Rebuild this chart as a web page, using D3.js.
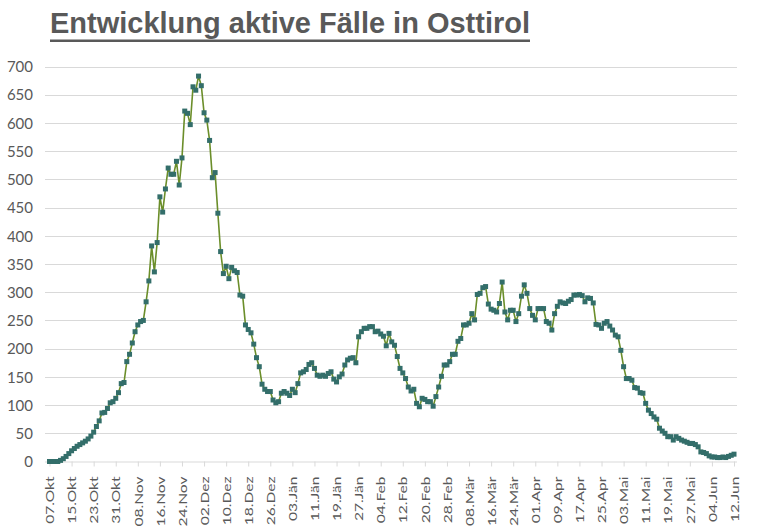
<!DOCTYPE html>
<html>
<head>
<meta charset="utf-8">
<script src="https://cdn.jsdelivr.net/npm/d3@7"></script>
<style>
  html, body { margin: 0; padding: 0; background: #fff; }
  svg { display: block; }
</style>
</head>
<body>
<svg id="chart" width="768" height="528"></svg>
<script>
const titleText = "Entwicklung aktive Fälle in Osttirol";

// daily active cases, starting 07.Okt (day 0) to 12.Jun (day 248)
const activeCases = [
  0, 0, 0, 0, 2, 5, 9, 14, 19, 23, 27, 30, 33, 36, 40, 45, 52, 62, 72, 86,
  87, 94, 104, 106, 112, 122, 138, 140, 177, 190, 210, 230, 242, 248, 250, 283, 320, 382, 336, 388,
  469, 442, 483, 520, 509, 509, 532, 490, 538, 621, 617, 597, 664, 658, 683, 666, 618, 605, 569, 503,
  512, 440, 372, 333, 346, 324, 344, 338, 335, 295, 293, 242, 234, 228, 208, 184, 168, 137, 128, 124,
  124, 109, 104, 106, 121, 124, 121, 117, 128, 122, 138, 157, 159, 163, 172, 175, 165, 153, 151, 153,
  151, 156, 159, 146, 141, 150, 155, 171, 180, 183, 184, 175, 221, 230, 236, 236, 239, 239, 230, 231,
  226, 222, 205, 227, 212, 206, 186, 165, 157, 147, 132, 125, 128, 103, 97, 112, 110, 106, 106, 98,
  115, 132, 151, 171, 171, 177, 190, 190, 213, 218, 242, 242, 245, 262, 251, 296, 298, 308, 310, 279,
  270, 268, 265, 280, 318, 265, 251, 268, 268, 248, 262, 293, 313, 298, 271, 259, 251, 271, 271, 271,
  248, 245, 233, 262, 275, 283, 281, 280, 284, 287, 295, 295, 296, 294, 283, 290, 289, 281, 243, 242,
  236, 245, 248, 240, 233, 224, 221, 197, 168, 147, 147, 144, 131, 130, 122, 121, 103, 91, 85, 79,
  75, 59, 54, 50, 44, 44, 38, 44, 41, 38, 36, 34, 32, 32, 30, 26, 17, 16, 14, 10,
  8, 8, 7, 7, 8, 7, 9, 11, 13
];

// x-axis labels, one every 8 days
const dateLabels = [
  "07.Okt", "15.Okt", "23.Okt", "31.Okt", "08.Nov", "16.Nov", "24.Nov", "02.Dez",
  "10.Dez", "18.Dez", "26.Dez", "03.Jän", "11.Jän", "19.Jän", "27.Jän", "04.Feb",
  "12.Feb", "20.Feb", "28.Feb", "08.Mär", "16.Mär", "24.Mär", "01.Apr", "09.Apr",
  "17.Apr", "25.Apr", "03.Mai", "11.Mai", "19.Mai", "27.Mai", "04.Jun", "12.Jun"
];
const labelStep = 8;

const yTicks = [0, 50, 100, 150, 200, 250, 300, 350, 400, 450, 500, 550, 600, 650, 700];

const svg = d3.select("#chart");
const plot = { left: 49.5, right: 734, top: 66.5, bottom: 461.5, gridRight: 737, gridLeft: 45 };

const x = d3.scaleLinear().domain([0, (dateLabels.length - 1) * labelStep]).range([plot.left, plot.right]);
const y = d3.scaleLinear().domain([0, 700]).range([plot.bottom, plot.top]);

const txtColor = "#595959";
const font = "Lato, 'Liberation Sans', Arial, sans-serif";

// title
svg.append("text")
  .attr("x", 50).attr("y", 33)
  .attr("font-family", "'Liberation Sans Narrow', 'Arial Narrow', 'Liberation Sans', Arial, sans-serif")
  .attr("font-weight", "bold")
  .attr("font-size", 30)
  .attr("fill", txtColor)
  .attr("textLength", 480)
  .attr("lengthAdjust", "spacingAndGlyphs")
  .text(titleText);
svg.append("rect").attr("x", 50).attr("y", 39.5).attr("width", 480).attr("height", 2.5).attr("fill", txtColor);

// gridlines
svg.append("g").selectAll("line").data(yTicks.filter(d => d > 0)).join("line")
  .attr("x1", plot.gridLeft).attr("x2", plot.gridRight)
  .attr("y1", d => Math.round(y(d)) + 0.5).attr("y2", d => Math.round(y(d)) + 0.5)
  .attr("stroke", "#d9d9d9").attr("stroke-width", 1);

// y axis labels
const yAxis = d3.axisLeft(y).tickValues(yTicks).tickSize(0).tickPadding(0);
const gy = svg.append("g").attr("transform", "translate(33,0)").call(yAxis);
gy.select(".domain").remove();
gy.selectAll("text").attr("font-family", font).attr("font-size", 15).attr("fill", txtColor).attr("dy", "0.35em");

// x axis
const xAxis = d3.axisBottom(x)
  .tickValues(dateLabels.map((d, i) => i * labelStep))
  .tickFormat((d, i) => dateLabels[i])
  .tickSize(5).tickPadding(6);
const gx = svg.append("g").attr("transform", `translate(0,${plot.bottom})`).call(xAxis);
gx.select(".domain").attr("d", `M${plot.gridLeft},0.5H${plot.gridRight}`).attr("stroke", "#d9d9d9");
gx.selectAll(".tick line").attr("stroke", "#d9d9d9");
gx.selectAll("text")
  .attr("font-family", font).attr("font-size", 12).attr("fill", txtColor)
  .attr("transform", "rotate(-90) translate(-15,0) scale(1.3,1)")
  .attr("text-anchor", "end")
  .attr("x", 0).attr("y", 0).attr("dy", "0.35em");

// line
const line = d3.line().x((d, i) => x(i)).y(d => y(d));
svg.append("path").datum(activeCases)
  .attr("d", line)
  .attr("fill", "none")
  .attr("stroke", "#6b8e2a")
  .attr("stroke-width", 1.6);

// markers
const ms = 5;
svg.append("g").selectAll("rect").data(activeCases).join("rect")
  .attr("x", (d, i) => x(i) - ms / 2)
  .attr("y", d => y(d) - ms / 2)
  .attr("width", ms).attr("height", ms)
  .attr("fill", "#336e6a");
</script>
</body>
</html>
